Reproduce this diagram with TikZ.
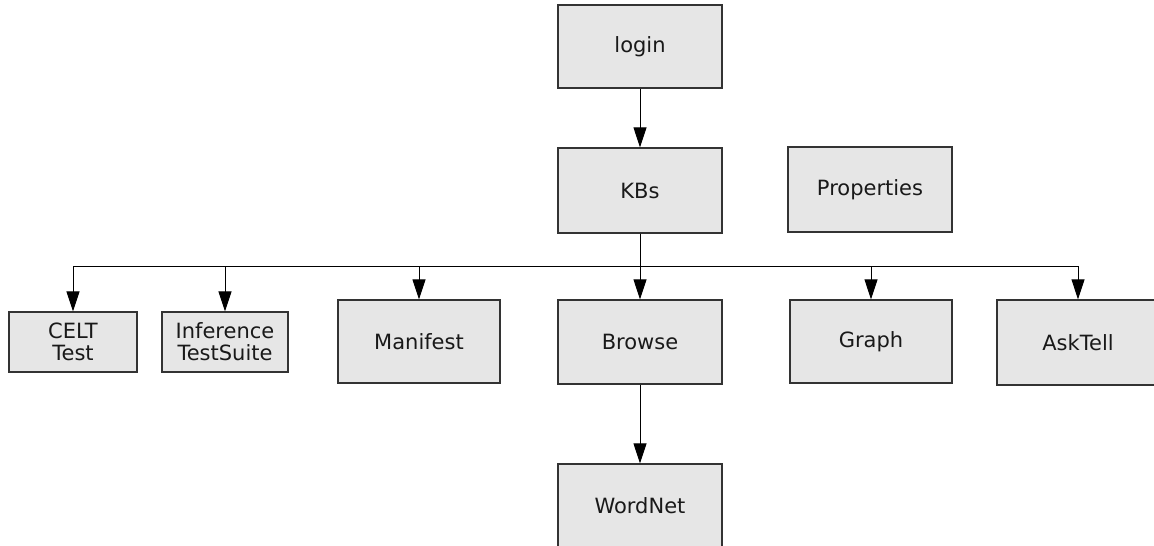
\documentclass[tikz,border=0pt]{standalone}
\usepackage{fontspec}
\setmainfont{DejaVu Sans}
\usetikzlibrary{arrows.meta}
\definecolor{boxfill}{HTML}{E6E6E6}
\definecolor{boxline}{HTML}{333333}
\tikzset{
  box/.style={draw=boxline, fill=boxfill, line width=1.3pt, rectangle, inner sep=0pt,
    align=center, text=black!90, font=\fontsize{21}{22}\selectfont},
  arr/.style={draw=black, line width=1pt, -{Triangle[length=20pt,width=13pt]}},
}
\begin{document}
\begin{tikzpicture}[x=1pt, y=-1pt]
\useasboundingbox (0,0) rectangle (1154,546);
% top of the hierarchy
\node[box, minimum width=164pt, minimum height=83pt] (login) at (640,46.5) {login};
\node[box, minimum width=164pt, minimum height=85pt] (kbs) at (640,190.5) {KBs};
\node[box, minimum width=164pt, minimum height=85pt] (props) at (870,189.5) {Properties};
% pages reached from the knowledge bases
\node[box, minimum width=128pt, minimum height=60pt] (celt) at (73,342) {CELT\\Test};
\node[box, minimum width=126pt, minimum height=60pt] (inf) at (225,342) {Inference\\TestSuite};
\node[box, minimum width=162pt, minimum height=83pt] (manifest) at (419,341.5) {Manifest};
\node[box, minimum width=164pt, minimum height=84pt] (browse) at (640,342) {Browse};
\node[box, minimum width=162pt, minimum height=83pt] (graph) at (871,341.5) {Graph};
\node[box, minimum width=162pt, minimum height=85pt] (asktell) at (1078,342.5) {AskTell};
\node[box, minimum width=164pt, minimum height=84pt] (wordnet) at (640,506) {WordNet};
% connectors
\coordinate (bus) at (640,266);
\draw[arr] (login.south) -- (kbs.north);
\draw[arr] (kbs.south) -- (bus) -| (celt.north);
\draw[arr] (bus) -| (inf.north);
\draw[arr] (bus) -| (manifest.north);
\draw[arr] (kbs.south) -- (browse.north);
\draw[arr] (bus) -| (graph.north);
\draw[arr] (bus) -| (asktell.north);
\draw[arr] (browse.south) -- (wordnet.north);
\end{tikzpicture}
\end{document}
